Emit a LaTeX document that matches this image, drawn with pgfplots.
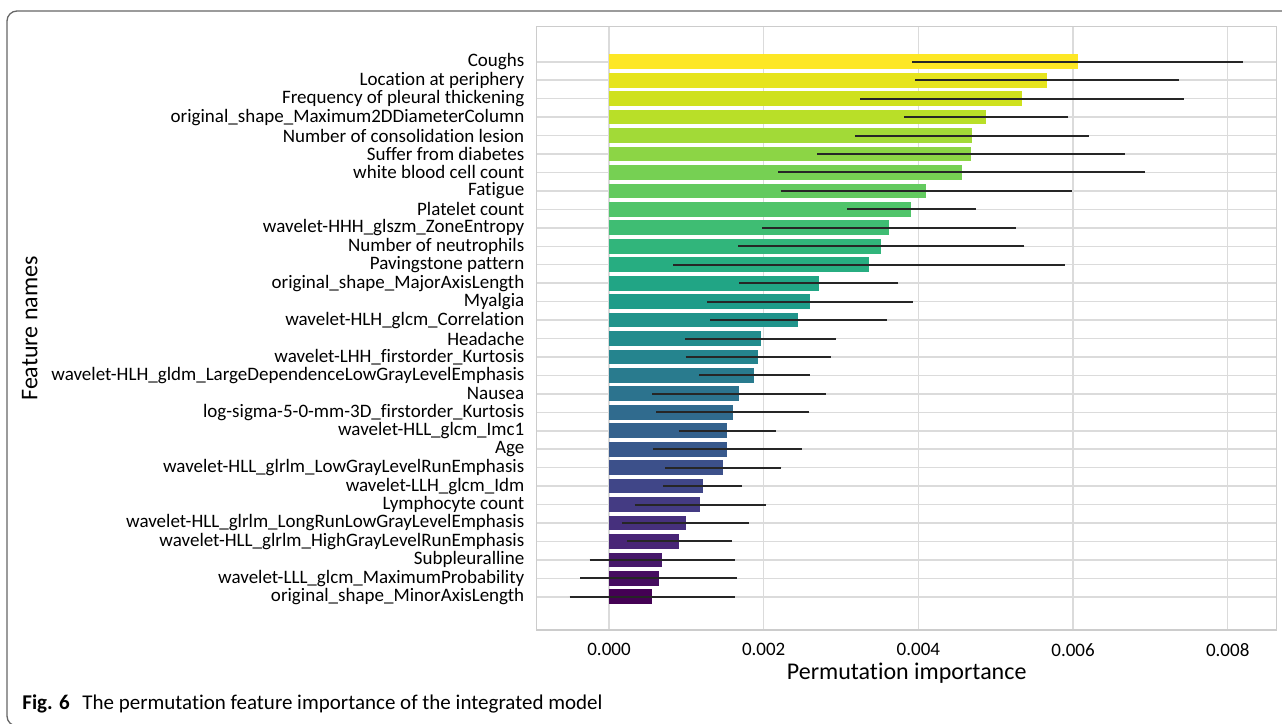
\documentclass[border=0pt]{standalone}
\usepackage{pgfplots}
\pgfplotsset{compat=1.18}
\usepackage{fontspec}
\setmainfont[RawFeature={-liga;-clig;-dlig}]{Carlito}

\definecolor{V00}{HTML}{440154}\definecolor{V01}{HTML}{471365}\definecolor{V02}{HTML}{482475}
\definecolor{V03}{HTML}{463480}\definecolor{V04}{HTML}{414487}\definecolor{V05}{HTML}{3B528B}
\definecolor{V06}{HTML}{355F8D}\definecolor{V07}{HTML}{2F6C8E}\definecolor{V08}{HTML}{2A788E}
\definecolor{V09}{HTML}{25848E}\definecolor{V10}{HTML}{21908C}\definecolor{V11}{HTML}{1E9C89}
\definecolor{V12}{HTML}{22A884}\definecolor{V13}{HTML}{2FB47C}\definecolor{V14}{HTML}{43BF71}
\definecolor{V15}{HTML}{5EC962}\definecolor{V16}{HTML}{7AD151}\definecolor{V17}{HTML}{9AD93C}
\definecolor{V18}{HTML}{BBDF27}\definecolor{V19}{HTML}{DCE319}\definecolor{V20}{HTML}{FDE725}

\colorlet{c0}{V20}\colorlet{c1}{V19!69!V20}\colorlet{c2}{V18!38!V19}\colorlet{c3}{V17!7!V18}
\colorlet{c4}{V17!76!V18}\colorlet{c5}{V16!45!V17}\colorlet{c6}{V15!14!V16}\colorlet{c7}{V15!83!V16}
\colorlet{c8}{V14!52!V15}\colorlet{c9}{V13!21!V14}\colorlet{c10}{V13!90!V14}\colorlet{c11}{V12!59!V13}
\colorlet{c12}{V11!28!V12}\colorlet{c13}{V11!97!V12}\colorlet{c14}{V10!65!V11}\colorlet{c15}{V09!34!V10}
\colorlet{c16}{V08!3!V09}\colorlet{c17}{V08!72!V09}\colorlet{c18}{V07!41!V08}\colorlet{c19}{V06!10!V07}
\colorlet{c20}{V06!79!V07}\colorlet{c21}{V05!48!V06}\colorlet{c22}{V04!17!V05}\colorlet{c23}{V04!86!V05}
\colorlet{c24}{V03!55!V04}\colorlet{c25}{V02!24!V03}\colorlet{c26}{V02!93!V03}\colorlet{c27}{V01!62!V02}
\colorlet{c28}{V00!31!V01}\colorlet{c29}{V00}

\pgfplotsset{ebar/.style={xbar, draw=none,
  error bars/x dir=both, error bars/x explicit, error bars/error mark=none,
  error bars/error bar style={line width=1pt, color=black!85}}}

\begin{document}
\begin{tikzpicture}
\useasboundingbox (0,0) rectangle (641pt,-362pt);
\draw[black!60, line width=0.65pt, rounded corners=5pt] (3.5pt,-363pt) rectangle (660pt,-5.5pt);
\begin{axis}[
  at={(268.35pt,-13.35pt)}, anchor=north west,
  scale only axis, width=370pt, height=301.65pt,
  xmin=-0.000935, xmax=0.008633,
  ymin=-1.9, ymax=30.8, y dir=reverse,
  enlargelimits=false,
  bar width=0.8, bar shift=0pt,
  scaled x ticks=false,
  xtick={0,0.002,0.004,0.006,0.008},
  xticklabels={0.000,0.002,0.004,0.006,0.008},
  ytick={0,...,29},
  yticklabels={Coughs,Location at periphery,Frequency of pleural thickening,original\_shape\_Maximum2DDiameterColumn,Number of consolidation lesion\ ,Suffer from diabetes,white blood cell count,Fatigue,Platelet count,wavelet-HHH\_glszm\_ZoneEntropy,Number of neutrophils,Pavingstone pattern,original\_shape\_MajorAxisLength,Myalgia,wavelet-HLH\_glcm\_Correlation,Headache,wavelet-LHH\_firstorder\_Kurtosis,wavelet-HLH\_gldm\_LargeDependenceLowGrayLevelEmphasis,Nausea,log-sigma-5-0-mm-3D\_firstorder\_Kurtosis,wavelet-HLL\_glcm\_Imc1,Age,wavelet-HLL\_glrlm\_LowGrayLevelRunEmphasis,wavelet-LLH\_glcm\_Idm,Lymphocyte count,wavelet-HLL\_glrlm\_LongRunLowGrayLevelEmphasis,wavelet-HLL\_glrlm\_HighGrayLevelRunEmphasis,Subpleuralline,wavelet-LLL\_glcm\_MaximumProbability,original\_shape\_MinorAxisLength},
  major tick length=0pt,
  grid=major,
  major grid style={line width=0.75pt, draw=black!14},
  axis line style={line width=0.75pt, draw=black!20},
  /pgf/number format/assume math mode=true,
  yticklabel style={font=\fontsize{9.5pt}{11pt}\selectfont, inner sep=0pt, xshift=-6pt},
  xticklabel style={font=\fontsize{9.5pt}{11pt}\selectfont, inner sep=0pt, yshift=-6.5pt},
  xlabel={Permutation importance},
  ylabel={Feature names},
  xlabel style={font=\fontsize{12pt}{14pt}\selectfont, at={(axis description cs:0.5,-0.0713)}, anchor=center},
  ylabel style={font=\fontsize{12pt}{14pt}\selectfont, at={(axis description cs:-0.685,0.5)}, anchor=center},
]
\addplot[fill=c0, ebar]  coordinates {(0.00606,0)  +- (0.00214,0)};
\addplot[fill=c1, ebar]  coordinates {(0.00566,1)  +- (0.00171,0)};
\addplot[fill=c2, ebar]  coordinates {(0.00534,2)  +- (0.00209,0)};
\addplot[fill=c3, ebar]  coordinates {(0.00488,3)  +- (0.00106,0)};
\addplot[fill=c4, ebar]  coordinates {(0.00469,4)  +- (0.00151,0)};
\addplot[fill=c5, ebar]  coordinates {(0.00468,5)  +- (0.00199,0)};
\addplot[fill=c6, ebar]  coordinates {(0.00456,6)  +- (0.00237,0)};
\addplot[fill=c7, ebar]  coordinates {(0.00410,7)  +- (0.00188,0)};
\addplot[fill=c8, ebar]  coordinates {(0.00391,8)  +- (0.00083,0)};
\addplot[fill=c9, ebar]  coordinates {(0.00362,9)  +- (0.00164,0)};
\addplot[fill=c10, ebar] coordinates {(0.00352,10) +- (0.00185,0)};
\addplot[fill=c11, ebar] coordinates {(0.00336,11) +- (0.00253,0)};
\addplot[fill=c12, ebar] coordinates {(0.00271,12) +- (0.00103,0)};
\addplot[fill=c13, ebar] coordinates {(0.00260,13) +- (0.00133,0)};
\addplot[fill=c14, ebar] coordinates {(0.00245,14) +- (0.00114,0)};
\addplot[fill=c15, ebar] coordinates {(0.00196,15) +- (0.00098,0)};
\addplot[fill=c16, ebar] coordinates {(0.00193,16) +- (0.00094,0)};
\addplot[fill=c17, ebar] coordinates {(0.00188,17) +- (0.00072,0)};
\addplot[fill=c18, ebar] coordinates {(0.00168,18) +- (0.00112,0)};
\addplot[fill=c19, ebar] coordinates {(0.00160,19) +- (0.00099,0)};
\addplot[fill=c20, ebar] coordinates {(0.00153,20) +- (0.00063,0)};
\addplot[fill=c21, ebar] coordinates {(0.00153,21) +- (0.00096,0)};
\addplot[fill=c22, ebar] coordinates {(0.00148,22) +- (0.00075,0)};
\addplot[fill=c23, ebar] coordinates {(0.00121,23) +- (0.00051,0)};
\addplot[fill=c24, ebar] coordinates {(0.00118,24) +- (0.00085,0)};
\addplot[fill=c25, ebar] coordinates {(0.00099,25) +- (0.00082,0)};
\addplot[fill=c26, ebar] coordinates {(0.00091,26) +- (0.00068,0)};
\addplot[fill=c27, ebar] coordinates {(0.00069,27) +- (0.00094,0)};
\addplot[fill=c28, ebar] coordinates {(0.00064,28) +- (0.00101,0)};
\addplot[fill=c29, ebar] coordinates {(0.00056,29) +- (0.00107,0)};
\end{axis}
\node[anchor=west, inner sep=0pt, font=\fontsize{10.5pt}{12pt}\selectfont] at (11pt,-352pt)
  {\textbf{Fig. 6}\hspace{0.6em}The permutation feature importance of the integrated model};
\end{tikzpicture}
\end{document}
